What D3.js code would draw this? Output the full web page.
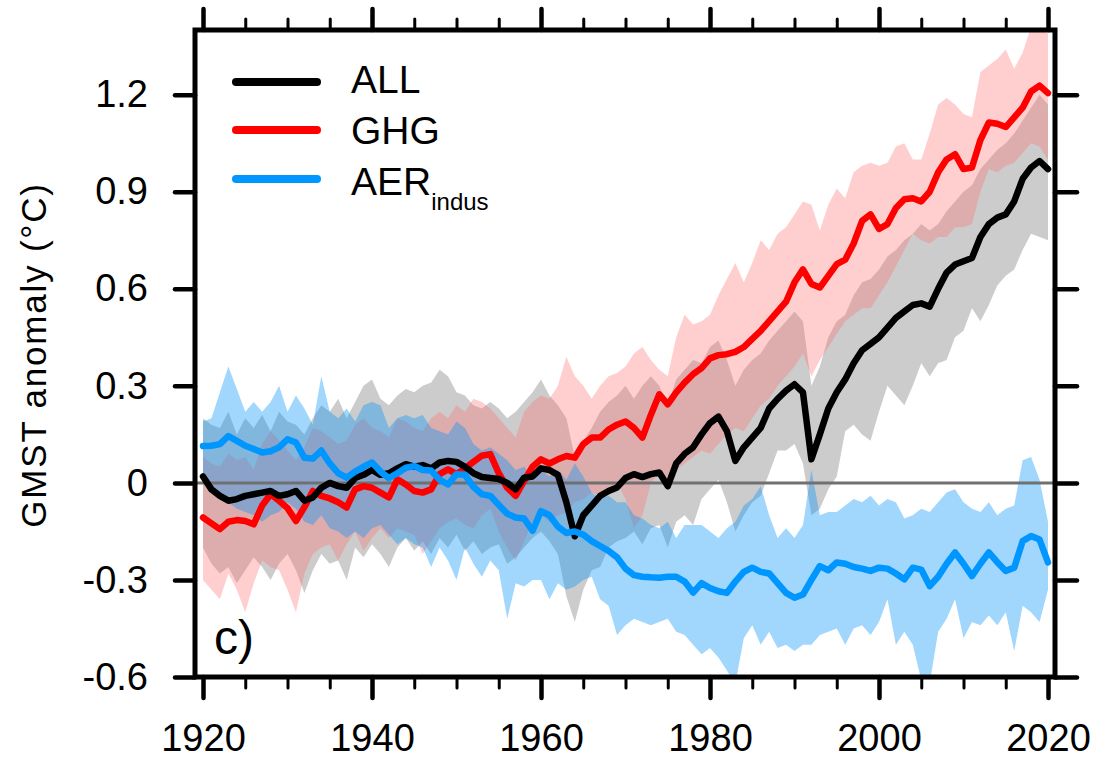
<!DOCTYPE html>
<html>
<head>
<meta charset="utf-8">
<script src="https://cdn.jsdelivr.net/npm/d3@7"></script>
<style>
  body { margin: 0; background: #fff; }
</style>
</head>
<body>
<div id="chart"></div>
<script>
// years 1920..2020
const years = d3.range(1920, 2021);

// ALL forcings: mean and 5-95% range
const allMean = [0.02,-0.02,-0.04,-0.055,-0.05,-0.04,-0.035,-0.03,-0.025,-0.04,
  -0.035,-0.025,-0.055,-0.045,-0.015,0,-0.01,-0.015,0.015,0.025,
  0.04,0.025,0.03,0.045,0.058,0.05,0.055,0.045,0.063,0.068,
  0.065,0.05,0.03,0.018,0.015,0.012,0,-0.02,0.016,0.02,
  0.045,0.04,0.025,-0.06,-0.165,-0.1,-0.07,-0.04,-0.025,-0.014,
  0.015,0.027,0.018,0.027,0.032,-0.01,0.06,0.09,0.11,0.15,
  0.185,0.205,0.16,0.068,0.11,0.14,0.17,0.23,0.26,0.285,
  0.305,0.28,0.073,0.15,0.23,0.28,0.32,0.37,0.41,0.43,
  0.45,0.48,0.51,0.53,0.55,0.555,0.545,0.6,0.65,0.675,
  0.685,0.695,0.76,0.8,0.82,0.83,0.87,0.94,0.975,0.995,0.97];
const allLo = [-0.2,-0.25,-0.28,-0.26,-0.31,-0.27,-0.23,-0.26,-0.3,-0.25,
  -0.22,-0.27,-0.34,-0.27,-0.22,-0.25,-0.24,-0.3,-0.2,-0.23,
  -0.19,-0.22,-0.26,-0.2,-0.17,-0.21,-0.18,-0.22,-0.17,-0.2,
  -0.16,-0.21,-0.18,-0.22,-0.2,-0.19,-0.25,-0.23,-0.2,-0.17,
  -0.15,-0.18,-0.22,-0.35,-0.43,-0.33,-0.27,-0.26,-0.2,-0.18,
  -0.17,-0.15,-0.19,-0.14,-0.13,-0.2,-0.12,-0.1,-0.13,-0.05,
  -0.02,0.01,-0.06,-0.15,-0.1,-0.06,-0.04,0.03,0.1,0.1,
  0.12,0.06,-0.1,-0.08,-0.02,0.02,0.16,0.18,0.15,0.13,
  0.22,0.3,0.27,0.24,0.3,0.37,0.33,0.37,0.38,0.45,
  0.47,0.54,0.5,0.55,0.61,0.64,0.66,0.72,0.77,0.76,0.75];
const allHi = [0.2,0.18,0.17,0.22,0.15,0.2,0.17,0.21,0.16,0.22,
  0.19,0.18,0.15,0.2,0.24,0.22,0.26,0.2,0.25,0.3,
  0.32,0.26,0.24,0.27,0.29,0.28,0.3,0.31,0.35,0.33,
  0.28,0.27,0.24,0.23,0.25,0.23,0.2,0.22,0.25,0.28,
  0.32,0.27,0.24,0.2,0.08,0.13,0.17,0.22,0.25,0.27,
  0.3,0.26,0.3,0.33,0.3,0.24,0.32,0.35,0.38,0.37,
  0.42,0.44,0.38,0.3,0.35,0.38,0.4,0.44,0.47,0.5,
  0.53,0.5,0.3,0.36,0.45,0.5,0.52,0.58,0.62,0.63,
  0.66,0.7,0.72,0.75,0.77,0.8,0.78,0.8,0.84,0.87,
  0.9,0.92,0.97,1.0,1.03,1.05,1.08,1.12,1.16,1.2,1.17];

// GHG only
const ghgMean = [-0.107,-0.125,-0.143,-0.12,-0.115,-0.118,-0.128,-0.07,-0.035,-0.055,
  -0.078,-0.118,-0.075,-0.025,-0.04,-0.048,-0.06,-0.076,-0.02,-0.01,
  -0.015,-0.03,-0.045,0.011,-0.005,-0.025,-0.03,-0.02,0.027,0.042,
  0.027,0.045,0.065,0.084,0.089,0.03,-0.015,-0.04,0.006,0.05,
  0.073,0.06,0.073,0.083,0.078,0.12,0.14,0.14,0.165,0.18,
  0.19,0.17,0.14,0.21,0.274,0.243,0.28,0.31,0.336,0.355,
  0.385,0.395,0.398,0.405,0.42,0.445,0.47,0.5,0.53,0.56,
  0.62,0.66,0.615,0.604,0.64,0.676,0.69,0.74,0.81,0.83,
  0.785,0.8,0.85,0.877,0.88,0.87,0.9,0.96,1.0,1.016,
  0.97,0.975,1.06,1.114,1.11,1.1,1.13,1.16,1.21,1.228,1.205];
const ghgLo = [-0.3,-0.33,-0.36,-0.28,-0.33,-0.4,-0.31,-0.24,-0.26,-0.27,
  -0.33,-0.4,-0.28,-0.22,-0.2,-0.19,-0.24,-0.19,-0.15,-0.21,
  -0.17,-0.14,-0.17,-0.14,-0.15,-0.16,-0.22,-0.18,-0.14,-0.12,
  -0.11,-0.13,-0.14,-0.1,-0.08,-0.15,-0.2,-0.24,-0.18,-0.12,
  -0.1,-0.12,-0.1,-0.09,-0.06,-0.05,-0.03,-0.04,-0.02,0,
  -0.05,-0.14,-0.1,0,0.03,0,0.04,0.06,0.08,0.1,
  0.09,0.12,0.15,0.17,0.16,0.2,0.24,0.26,0.3,0.33,
  0.36,0.4,0.33,0.38,0.42,0.46,0.5,0.52,0.54,0.54,
  0.58,0.62,0.67,0.72,0.77,0.75,0.74,0.76,0.76,0.79,
  0.79,0.8,0.9,0.97,0.96,0.98,0.99,1.02,1.05,1.04,1.0];
const ghgHi = [0.08,0.06,0.05,0.09,0.07,0.08,0.04,0.12,0.16,0.13,
  0.1,0.07,0.11,0.17,0.16,0.14,0.12,0.13,0.18,0.2,
  0.17,0.16,0.14,0.2,0.19,0.17,0.16,0.2,0.22,0.2,
  0.24,0.22,0.26,0.25,0.23,0.2,0.17,0.14,0.22,0.25,
  0.27,0.26,0.3,0.39,0.33,0.3,0.26,0.3,0.33,0.34,
  0.36,0.4,0.42,0.38,0.35,0.33,0.45,0.52,0.49,0.5,
  0.52,0.58,0.63,0.68,0.62,0.68,0.75,0.72,0.77,0.79,
  0.83,0.87,0.86,0.78,0.86,0.91,0.88,0.96,0.98,0.99,
  0.98,0.99,1.04,1.05,1.0,1.0,1.08,1.17,1.19,1.17,
  1.14,1.13,1.27,1.29,1.31,1.34,1.28,1.33,1.41,1.4,1.39];

// industrial aerosols only
const aerMean = [0.114,0.115,0.12,0.145,0.13,0.115,0.105,0.094,0.098,0.11,
  0.135,0.125,0.078,0.075,0.1,0.06,0.03,0.016,0.035,0.05,
  0.063,0.035,0.015,0.03,0.047,0.052,0.04,0.038,0.01,-0.005,
  0.027,0.025,-0.012,-0.035,-0.04,-0.068,-0.095,-0.107,-0.11,-0.148,
  -0.087,-0.1,-0.135,-0.155,-0.15,-0.16,-0.18,-0.195,-0.21,-0.23,
  -0.265,-0.285,-0.29,-0.292,-0.293,-0.29,-0.29,-0.305,-0.339,-0.31,
  -0.325,-0.335,-0.34,-0.305,-0.275,-0.262,-0.275,-0.28,-0.31,-0.34,
  -0.355,-0.345,-0.3,-0.257,-0.27,-0.246,-0.25,-0.26,-0.265,-0.272,
  -0.262,-0.265,-0.28,-0.298,-0.262,-0.268,-0.319,-0.29,-0.25,-0.215,
  -0.25,-0.288,-0.25,-0.215,-0.245,-0.272,-0.262,-0.18,-0.164,-0.175,-0.246];
const aerLo = [0,-0.02,-0.05,-0.06,-0.08,-0.09,-0.1,-0.12,-0.1,-0.09,
  -0.06,-0.08,-0.12,-0.13,-0.1,-0.14,-0.15,-0.17,-0.15,-0.17,
  -0.14,-0.13,-0.16,-0.19,-0.17,-0.19,-0.2,-0.26,-0.2,-0.24,
  -0.3,-0.2,-0.25,-0.29,-0.24,-0.27,-0.42,-0.31,-0.32,-0.3,
  -0.3,-0.36,-0.31,-0.33,-0.32,-0.3,-0.29,-0.36,-0.38,-0.47,
  -0.44,-0.42,-0.43,-0.44,-0.43,-0.42,-0.46,-0.47,-0.5,-0.53,
  -0.51,-0.54,-0.58,-0.62,-0.48,-0.44,-0.5,-0.46,-0.51,-0.5,
  -0.52,-0.5,-0.5,-0.47,-0.46,-0.45,-0.5,-0.45,-0.44,-0.47,
  -0.43,-0.36,-0.5,-0.46,-0.5,-0.61,-0.62,-0.46,-0.42,-0.36,
  -0.48,-0.43,-0.44,-0.41,-0.44,-0.4,-0.52,-0.38,-0.4,-0.43,-0.33];
const aerHi = [0.19,0.2,0.28,0.36,0.29,0.22,0.25,0.22,0.25,0.3,
  0.22,0.27,0.23,0.18,0.33,0.22,0.2,0.23,0.19,0.24,
  0.25,0.24,0.17,0.2,0.21,0.2,0.21,0.17,0.16,0.15,
  0.19,0.17,0.12,0.1,0.11,0.09,0.07,0.04,0.05,0.02,
  0.04,0.02,0.04,0.01,0.06,0.02,-0.03,-0.05,-0.04,-0.06,
  -0.06,-0.1,-0.11,-0.13,-0.14,-0.12,-0.17,-0.13,-0.13,-0.13,
  -0.15,-0.17,-0.14,-0.12,-0.07,-0.05,-0.01,-0.1,-0.17,-0.14,
  -0.17,-0.13,0.04,-0.1,-0.09,-0.09,-0.07,-0.05,-0.06,-0.04,
  -0.07,-0.05,-0.06,-0.11,-0.1,-0.08,-0.09,-0.06,-0.03,-0.02,
  -0.06,-0.08,-0.09,-0.06,-0.1,-0.08,-0.07,0.07,0.08,0.01,-0.12];

const yTicks = [-0.6, -0.3, 0, 0.3, 0.6, 0.9, 1.2];
const xTicks = [1920, 1940, 1960, 1980, 2000, 2020];
const xMinor = d3.range(1920, 2021, 5);

const series = [
  {name: "ALL", mean: allMean, lo: allLo, hi: allHi, line: "#000000", band: "#000000", bandOp: 0.2},
  {name: "GHG", mean: ghgMean, lo: ghgLo, hi: ghgHi, line: "#ff0000", band: "rgb(255,110,110)", bandOp: 0.33},
  {name: "AER", sub: "indus", mean: aerMean, lo: aerLo, hi: aerHi, line: "#0096ff", band: "rgb(0,145,250)", bandOp: 0.37}
];

const W = 1097, H = 763;
const frame = {left: 195, right: 1055, top: 30, bottom: 677};
const font = "'Liberation Sans', Arial, Helvetica, sans-serif";

const svg = d3.select("#chart").append("svg")
    .attr("width", W)
    .attr("height", H)
    .style("font-family", font);

const x = d3.scaleLinear().domain([1920, 2020]).range([203, 1048]);
const y = d3.scaleLinear().domain([-0.6, 1.4]).range([frame.bottom, frame.top]);

svg.append("clipPath").attr("id", "plot")
  .append("rect")
    .attr("x", frame.left).attr("y", frame.top)
    .attr("width", frame.right - frame.left)
    .attr("height", frame.bottom - frame.top);

const plot = svg.append("g").attr("clip-path", "url(#plot)");

// shaded ranges
const area = (s) => d3.area()
    .x((d, i) => x(years[i]))
    .y0((d, i) => y(s.lo[i]))
    .y1((d, i) => y(s.hi[i]));

series.forEach(s => {
  plot.append("path")
      .attr("d", area(s)(years))
      .attr("fill", s.band)
      .attr("fill-opacity", s.bandOp);
});

// zero line
plot.append("line")
    .attr("x1", frame.left).attr("x2", frame.right)
    .attr("y1", y(0)).attr("y2", y(0))
    .attr("stroke", "#707070")
    .attr("stroke-width", 3);

// mean lines (red, black, then blue on top)
const line = (s) => d3.line()
    .x((d, i) => x(years[i]))
    .y((d, i) => y(s.mean[i]));

[series[1], series[0], series[2]].forEach(s => {
  plot.append("path")
      .attr("d", line(s)(years))
      .attr("fill", "none")
      .attr("stroke", s.line)
      .attr("stroke-width", 6.5)
      .attr("stroke-linejoin", "round")
      .attr("stroke-linecap", "round");
});

// axes: major and minor ticks on all sides
function styleAxis(g, w) {
  g.select(".domain").remove();
  g.selectAll(".tick line").attr("stroke", "#000").attr("stroke-width", w).attr("stroke-linecap", "round");
  g.selectAll("text").attr("fill", "#000").style("font-family", font).style("font-size", "38px");
}

svg.append("g")
    .attr("transform", `translate(0,${frame.bottom})`)
    .call(d3.axisBottom(x).tickValues(xMinor).tickSize(11).tickFormat(""))
    .call(g => styleAxis(g, 3));
svg.append("g")
    .attr("transform", `translate(0,${frame.bottom})`)
    .call(d3.axisBottom(x).tickValues(xTicks).tickSize(21).tickPadding(26).tickFormat(d3.format("d")))
    .call(g => styleAxis(g, 4.5));
svg.append("g")
    .attr("transform", `translate(0,${frame.top})`)
    .call(d3.axisTop(x).tickValues(xMinor).tickSize(11).tickFormat(""))
    .call(g => styleAxis(g, 3));
svg.append("g")
    .attr("transform", `translate(0,${frame.top})`)
    .call(d3.axisTop(x).tickValues(xTicks).tickSize(21).tickFormat(""))
    .call(g => styleAxis(g, 4.5));
svg.append("g")
    .attr("transform", `translate(${frame.left},0)`)
    .call(d3.axisLeft(y).tickValues(yTicks).tickSize(20).tickPadding(27)
      .tickFormat(d => d === 0 ? "0" : d.toFixed(1)))
    .call(g => styleAxis(g, 4.5));
svg.append("g")
    .attr("transform", `translate(${frame.right},0)`)
    .call(d3.axisRight(y).tickValues(yTicks).tickSize(22).tickFormat(""))
    .call(g => styleAxis(g, 4.5));

// frame
svg.append("rect")
    .attr("x", frame.left).attr("y", frame.top)
    .attr("width", frame.right - frame.left)
    .attr("height", frame.bottom - frame.top)
    .attr("fill", "none")
    .attr("stroke", "#000")
    .attr("stroke-width", 5);

// y label
svg.append("text")
    .attr("transform", "translate(46,355) rotate(-90)")
    .attr("text-anchor", "middle")
    .style("font-size", "35px")
    .style("letter-spacing", "1.8px")
    .text("GMST anomaly (°C)");

// panel label
svg.append("text")
    .attr("x", 214).attr("y", 654)
    .style("font-size", "48px")
    .text("c)");

// legend
const legLineY = [82, 130, 179];
const legTextY = [93, 144, 195];
series.forEach((s, i) => {
  svg.append("line")
      .attr("x1", 236).attr("x2", 317)
      .attr("y1", legLineY[i]).attr("y2", legLineY[i])
      .attr("stroke", s.line)
      .attr("stroke-width", 8)
      .attr("stroke-linecap", "round");
  const t = svg.append("text")
      .attr("x", 351).attr("y", legTextY[i])
      .style("font-size", "39px")
      .text(s.name);
  if (s.sub) {
    t.append("tspan")
        .attr("dy", 15)
        .style("font-size", "24px")
        .text(s.sub);
  }
});
</script>
</body>
</html>
